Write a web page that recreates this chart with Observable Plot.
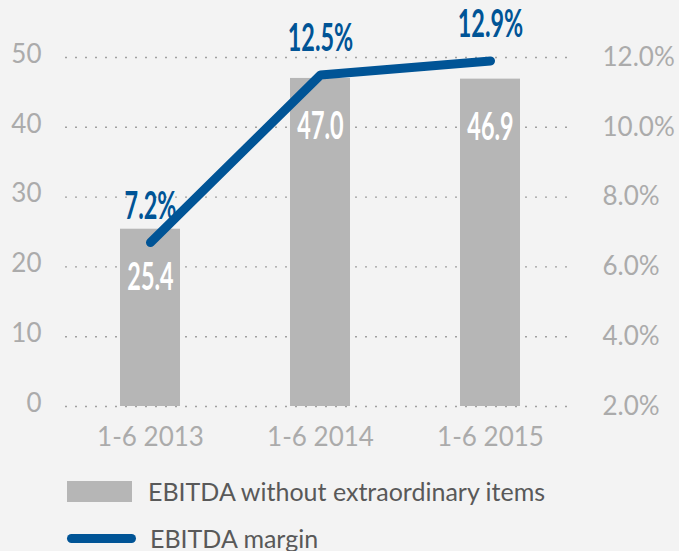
<!DOCTYPE html>
<html>
<head>
<meta charset="utf-8">
<script src="https://cdn.jsdelivr.net/npm/d3@7"></script>
<script src="https://cdn.jsdelivr.net/npm/@observablehq/plot@0.6"></script>
<style>
  html, body { margin: 0; padding: 0; background: #f3f3f3; width: 679px; height: 551px; overflow: hidden; }
  #chart svg { display: block; }
  .legend { font-family: Lato, "Open Sans", sans-serif; font-size: 25px; color: #595959; padding-left: 67px; }
  .row { display: flex; align-items: center; height: 24px; white-space: nowrap; }
  .sw-bar { width: 65px; height: 21px; background: #b6b6b6; margin-right: 16px; flex: none; }
  .sw-line { width: 69px; height: 9px; border-radius: 5px; background: #005496; margin-right: 14px; flex: none; }
</style>
</head>
<body>
<div id="chart"></div>
<div class="legend">
  <div class="row" style="margin-top:17px"><div class="sw-bar"></div><span id="lg1"></span></div>
  <div class="row" style="margin-top:23px"><div class="sw-line"></div><span id="lg2"></span></div>
</div>
<script>
// ---- data ----
const periods = ["1-6 2013", "1-6 2014", "1-6 2015"];
const ebitda = [25.4, 47.0, 46.9];              // EBITDA without extraordinary items
const marginLabels = [7.2, 12.5, 12.9];          // EBITDA margin as printed (%)
const marginLine = [6.7, 11.5, 11.9];            // EBITDA margin as drawn against the right axis (%)
const leftTicks = [0, 10, 20, 30, 40, 50];
const rightTicks = [2, 4, 6, 8, 10, 12];          // percent
const seriesNames = ["EBITDA without extraordinary items", "EBITDA margin"];

// right axis maps 2%..12% onto the left 0..50 range
const pctToY = p => (p - rightTicks[0]) * (leftTicks[leftTicks.length - 1] / (rightTicks[rightTicks.length - 1] - rightTicks[0]));
const yToPct = v => rightTicks[0] + v * (rightTicks[rightTicks.length - 1] - rightTicks[0]) / leftTicks[leftTicks.length - 1];

const data = periods.map((p, i) => ({
  period: p, ebitda: ebitda[i], label: marginLabels[i], line: pctToY(marginLine[i])
}));

const blue = "#005496";
const font = "Lato, 'Open Sans', sans-serif";

const plot = Plot.plot({
  width: 679,
  height: 462,
  marginLeft: 65,
  marginRight: 104,
  marginTop: 57,
  marginBottom: 56,
  style: { background: "transparent", fontFamily: font, fontSize: "26px", color: "#ababab" },
  x: { domain: periods, paddingInner: 0.647, paddingOuter: 0.3235, label: null },
  y: { domain: [0, 50], label: null },
  marks: [
    Plot.ruleY(leftTicks, { stroke: "#a0a0a0", strokeDasharray: "2,8", strokeWidth: 1.4 }),
    Plot.barY(data, { x: "period", y: "ebitda", fill: "#b6b6b6" }),
    Plot.axisY({ ticks: leftTicks, anchor: "left", tickSize: 0, tickPadding: 24, dy: -3, label: null, fill: "#ababab" }),
    Plot.axisY({ ticks: leftTicks, anchor: "right", tickSize: 0, tickPadding: 27, label: null, fill: "#ababab",
      tickFormat: d => yToPct(d).toFixed(1) + "%" }),
    Plot.axisX({ tickSize: 0, tickPadding: 21, label: null, fill: "#ababab" }),
    Plot.line(data, { x: "period", y: "line", stroke: blue, strokeWidth: 9, strokeLinecap: "round", strokeLinejoin: "round" }),
    Plot.text(data, { x: "period", y: "ebitda", text: d => d.ebitda.toFixed(1), dy: 48, fill: "white",
      fontWeight: "bold", fontSize: 39, fontFamily: font }),
    Plot.text(data, { x: "period", y: "line", text: d => d.label.toFixed(1) + "%", dy: -36, fill: blue,
      fontWeight: "bold", fontSize: 39, fontFamily: font })
  ]
});

// the value labels use a condensed bold face in the reference
d3.select(plot).selectAll("g[font-size='39'] text").attr("transform", function () {
  return (this.getAttribute("transform") || "") + " scale(0.6,1)";
});

document.getElementById("chart").appendChild(plot);
document.getElementById("lg1").textContent = seriesNames[0];
document.getElementById("lg2").textContent = seriesNames[1];
</script>
</body>
</html>
